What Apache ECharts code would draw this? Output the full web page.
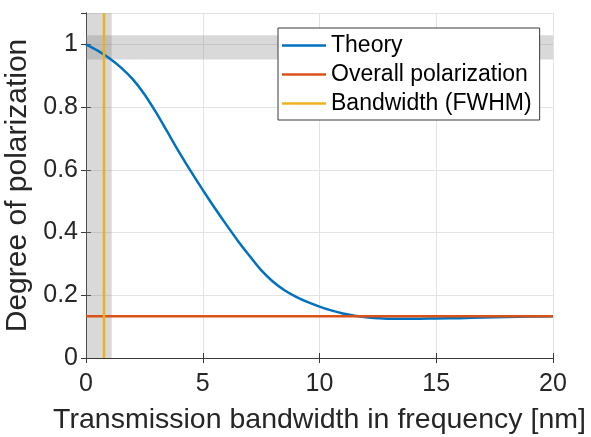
<!DOCTYPE html>
<html>
<head>
<meta charset="utf-8">
<script src="https://cdn.jsdelivr.net/npm/echarts@6/dist/echarts.min.js"></script>
<style>html,body{margin:0;padding:0;background:#fff}#c{width:591px;height:437px}</style>
</head>
<body>
<div id="c"></div>
<script>
// Data
const theoryX = [0, 0.5, 1, 1.5, 2, 2.5, 3, 3.5, 4, 4.5, 5, 5.5, 6, 6.5, 7, 7.5, 8, 8.5, 9, 9.5, 10, 10.5, 11, 11.5, 12, 12.5, 13, 14, 15, 16, 17, 18, 19, 20];
const theoryY = [1.0, 0.980, 0.956, 0.926, 0.889, 0.841, 0.783, 0.719, 0.655, 0.594, 0.536, 0.480, 0.426, 0.374, 0.326, 0.280, 0.244, 0.216, 0.195, 0.178, 0.164, 0.152, 0.142, 0.135, 0.130, 0.127, 0.125, 0.125, 0.126, 0.127, 0.129, 0.131, 0.132, 0.133];
const overallValue = 0.133;
const bandwidthValue = 0.77;
const bandwidthBand = [0, 1.1];
const polarizationBand = [0.952, 1.029];
const xRange = [0, 20];
const yRange = [0, 1.1];
const seriesNames = ['Theory', 'Overall polarization', 'Bandwidth (FWHM)'];
const seriesColors = ['#0072BD', '#D95319', '#EDB120'];

const txt = '#262626';
const axisCol = '#3a3a3a';
const font = 'Liberation Sans, Arial, Helvetica, sans-serif';

const chart = echarts.init(document.getElementById('c'), null, {renderer: 'canvas'});

const baseX = {
  type: 'value', min: xRange[0], max: xRange[1], interval: 5,
  axisLine: {show: true, lineStyle: {color: axisCol, width: 1}},
  axisTick: {show: true, inside: true, length: 5, lineStyle: {color: axisCol}},
  splitLine: {show: false}
};
const baseY = {
  type: 'value', min: yRange[0], max: yRange[1], interval: 0.2,
  axisLine: {show: true, lineStyle: {color: axisCol, width: 1}},
  axisTick: {show: true, inside: true, length: 5, lineStyle: {color: axisCol}},
  splitLine: {show: false}
};

chart.setOption({
  animation: false,
  backgroundColor: '#fff',
  grid: {left: 86, right: 38, top: 13, bottom: 79, containLabel: false, outerBoundsMode: 'none'},
  legend: {
    data: seriesNames.map((n, i) => ({name: n, icon: 'rect', itemStyle: {color: seriesColors[i]}})),
    orient: 'vertical',
    left: 278, top: 28,
    padding: [6, 8, 5, 4],
    itemWidth: 44, itemHeight: 2.5, itemGap: 6,
    backgroundColor: '#fff',
    borderColor: axisCol, borderWidth: 1, borderRadius: 0,
    textStyle: {fontSize: 23, color: '#000', fontFamily: font}
  },
  xAxis: [
    Object.assign({}, baseX, {
      position: 'bottom',
      name: 'Transmission bandwidth in frequency [nm]',
      nameLocation: 'middle', nameGap: 48,
      nameTextStyle: {fontSize: 28.5, color: txt, fontFamily: font},
      axisLabel: {show: true, fontSize: 25, color: txt, fontFamily: font, margin: 14},
      splitLine: {show: true, lineStyle: {color: '#e3e3e3', width: 1}}
    }),
    Object.assign({}, baseX, {position: 'top', axisLabel: {show: false}})
  ],
  yAxis: [
    Object.assign({}, baseY, {
      position: 'left',
      name: 'Degree of polarization',
      nameLocation: 'middle', nameGap: 49,
      nameTextStyle: {fontSize: 30, color: txt, fontFamily: font},
      axisLabel: {show: true, fontSize: 25, color: txt, fontFamily: font, margin: 8, showMaxLabel: false,
        formatter: v => (v > 1.05 ? '' : String(Math.round(v * 10) / 10))},
      splitLine: {show: true, lineStyle: {color: '#e3e3e3', width: 1}}
    }),
    Object.assign({}, baseY, {position: 'right', axisLabel: {show: false}})
  ],
  series: [
    {
      name: 'bands', type: 'line', data: [], z: 1, silent: true,
      markArea: {
        silent: true,
        itemStyle: {color: 'rgba(128,128,128,0.3)'},
        data: [
          [{xAxis: bandwidthBand[0]}, {xAxis: bandwidthBand[1]}],
          [{yAxis: polarizationBand[0]}, {yAxis: polarizationBand[1]}]
        ]
      }
    },
    {
      name: seriesNames[0], type: 'line', z: 3,
      data: theoryX.map((x, i) => [x, theoryY[i]]),
      smooth: 0.3, showSymbol: false, symbol: 'none',
      lineStyle: {color: seriesColors[0], width: 2.5}, itemStyle: {color: seriesColors[0]}
    },
    {
      name: seriesNames[1], type: 'line', z: 4,
      data: [[xRange[0], overallValue], [xRange[1], overallValue]],
      showSymbol: false, symbol: 'none',
      lineStyle: {color: seriesColors[1], width: 2.5}, itemStyle: {color: seriesColors[1]}
    },
    {
      name: seriesNames[2], type: 'line', z: 5,
      data: [[bandwidthValue, yRange[0]], [bandwidthValue, yRange[1]]],
      showSymbol: false, symbol: 'none',
      lineStyle: {color: seriesColors[2], width: 2.5}, itemStyle: {color: seriesColors[2]}
    }
  ]
});
</script>
</body>
</html>
